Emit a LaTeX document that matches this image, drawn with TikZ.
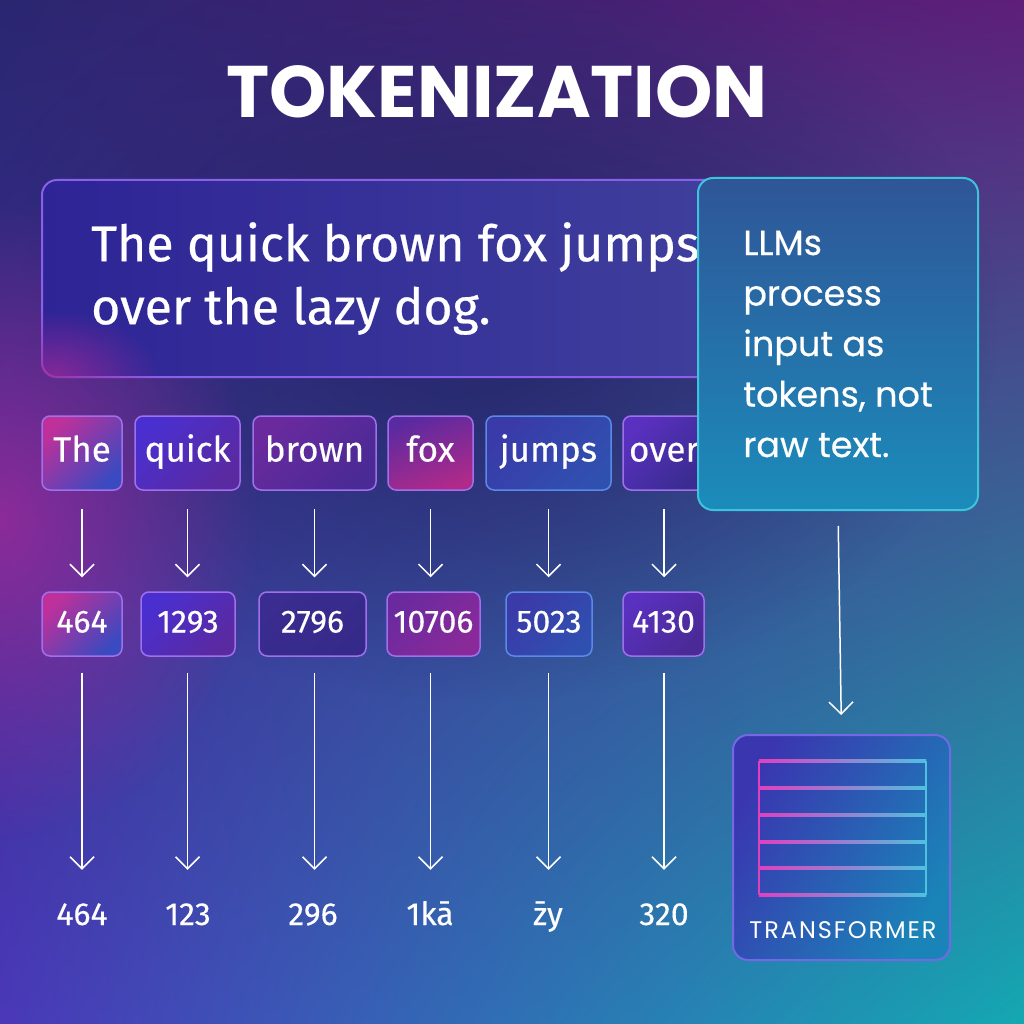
\documentclass[tikz,border=0pt]{standalone}
\usepackage{fontspec}
\setmainfont{Fira Sans}
\newfontfamily\popfont{Poppins}
\usetikzlibrary{positioning, arrows.meta, fadings, shadings, calc}
\tikzfading[name=glow out, inner color=transparent!0, outer color=transparent!100]

\definecolor{bgTL}{HTML}{2A2670}
\definecolor{bgTR}{HTML}{5E1E7A}
\definecolor{bgBL}{HTML}{4A38B8}
\definecolor{bgBR}{HTML}{14A8B2}
\definecolor{glowPink}{HTML}{A02A9A}
\definecolor{glowNavy}{HTML}{1E1F60}
\definecolor{tokline}{HTML}{A070EC}
\definecolor{tokblueline}{HTML}{5A8AE8}
\definecolor{sentline}{HTML}{8A60E8}
\definecolor{sentA}{HTML}{2E2496}
\definecolor{sentB}{HTML}{3F3F9C}
\definecolor{callline}{HTML}{3CC4DC}
\definecolor{callA}{HTML}{2F5597}
\definecolor{callB}{HTML}{1B8CBB}
\definecolor{xline}{HTML}{7468E4}
\definecolor{xA}{HTML}{3A36B0}
\definecolor{xB}{HTML}{1A84B8}
\definecolor{gridPink}{HTML}{E040C0}
\definecolor{gridCyan}{HTML}{50C0E0}
\definecolor{tPink}{HTML}{C0309A}
\definecolor{tBlue}{HTML}{3A4AC0}
\definecolor{tViolet}{HTML}{4A2FD0}
\definecolor{tPlum}{HTML}{5A2AA0}
\definecolor{tPurple}{HTML}{6A2A9E}
\definecolor{tGrape}{HTML}{4A2A95}
\definecolor{tMag}{HTML}{B02A8A}
\definecolor{tSea}{HTML}{3A3AA8}
\definecolor{tSky}{HTML}{3050B0}
\definecolor{tIris}{HTML}{5A30C0}
\definecolor{tInk}{HTML}{3A2C90}
\definecolor{tDeep}{HTML}{352A8A}
\definecolor{tOrchid}{HTML}{8A2A9A}

\begin{document}
\begin{tikzpicture}[x=1pt, y=-1pt,
    tokbox/.style={draw=tokline, line width=1.5pt, rounded corners=8pt, minimum height=74pt,
        inner sep=0pt, text=white, text height=25pt, text depth=8pt,
        font=\fontsize{35}{40}\selectfont\addfontfeatures{FakeBold=0.3}},
    idbox/.style={tokbox, minimum height=64pt, font=\fontsize{32}{38}\selectfont\addfontfeatures{FakeBold=0.3}},
    outlabel/.style={text=white, inner sep=0pt, anchor=base, text height=24pt, text depth=8pt,
        font=\fontsize{32}{38}\selectfont\addfontfeatures{FakeBold=0.3}},
    flow/.style={draw=white, line width=1.5pt, -{Straight Barb[length=12pt,width=24pt]}}
]
    % background
    \useasboundingbox (0,0) rectangle (1024,1024);
    \shade[upper left=bgTL, upper right=bgTR, lower left=bgBL, lower right=bgBR] (0,0) rectangle (1024,1024);
    \fill[glowNavy, path fading=glow out, opacity=0.75] (480,320) ellipse (520 and 380);
    \fill[glowPink, path fading=glow out, opacity=0.8] (0,520) ellipse (260 and 320);

    % title
    \node[text=white, font=\popfont\bfseries\fontsize{73}{80}\selectfont] (title) at (497,92) {TOKENIZATION};

    % sentence
    \node[draw=sentline, line width=2pt, rounded corners=15pt, left color=sentA, right color=sentB,
        minimum width=678pt, minimum height=197pt] (sentbox) at (381,278.5) {};
    \begin{scope}
        \clip[rounded corners=15pt] (sentbox.north west) rectangle (sentbox.south east);
        \fill[glowPink, path fading=glow out, opacity=0.8] (50,380) ellipse (110 and 70);
    \end{scope}
    \node[anchor=west, align=left, text=white, inner sep=0pt,
        font=\fontsize{50}{63}\selectfont\addfontfeatures{FakeBold=0.5}]
        (sent) at ([xshift=50pt]sentbox.west) {The quick brown fox jumps\\over the lazy dog.};

    % tokens
    \node[tokbox, left color=tPink, right color=tBlue, shading angle=45, minimum width=80pt] (tokThe) at (82,453) {The};
    \node[tokbox, left color=tViolet, right color=tPlum, shading angle=45, minimum width=105pt] (tokQuick) at (187.5,453) {quick};
    \node[tokbox, left color=tPurple, right color=tGrape, shading angle=45, minimum width=123pt] (tokBrown) at (314.5,453) {brown};
    \node[tokbox, left color=tPlum, right color=tMag, shading angle=20, minimum width=85pt] (tokFox) at (430.5,453) {fox};
    \node[tokbox, draw=tokblueline, left color=tSea, right color=tSky, shading angle=45, minimum width=125pt] (tokJumps) at (548.5,453) {jumps};
    \node[tokbox, left color=tIris, right color=tInk, shading angle=45, minimum width=82pt] (tokOver) at (664,453) {over};

    % token ids
    \node[idbox, left color=tPink, right color=tBlue, shading angle=45, minimum width=80pt] (idThe) at (82,624) {464};
    \node[idbox, left color=tViolet, right color=tPlum, shading angle=45, minimum width=94pt] (idQuick) at (188,624) {1293};
    \node[idbox, left color=tInk, right color=tDeep, shading angle=45, minimum width=107pt] (idBrown) at (312.5,624) {2796};
    \node[idbox, left color=tPurple, right color=tOrchid, shading angle=45, minimum width=93pt] (idFox) at (433.5,624) {10706};
    \node[idbox, draw=tokblueline, left color=tSea, right color=tSky, shading angle=45, minimum width=86pt] (idJumps) at (549,624) {5023};
    \node[idbox, left color=tIris, right color=tGrape, shading angle=45, minimum width=81pt] (idOver) at (663.5,624) {4130};

    % outputs
    \node[outlabel] (outThe) at (82,925) {464};
    \node[outlabel] (outQuick) at (188,925) {123};
    \node[outlabel] (outBrown) at (313,925) {296};
    \node[outlabel] (outFox) at (430,925) {1kā};
    \node[outlabel] (outJumps) at (548,925) {z̄y};
    \node[outlabel] (outOver) at (664,925) {320};

    \foreach \w in {The,Quick,Brown,Fox,Jumps,Over} {
        \draw[flow, shorten <=18pt, shorten >=14pt] (tok\w.south) -- (tok\w.south |- id\w.north);
        \draw[flow, shorten <=16pt, shorten >=31pt] (tok\w.south |- id\w.south) -- (tok\w.south |- out\w.north);
    }

    % callout
    \node[draw=callline, line width=2pt, rounded corners=15pt, top color=callA, bottom color=callB,
        minimum width=280pt, minimum height=332pt, align=left, text=white,
        font=\popfont\fontsize{35}{50.5}\selectfont\addfontfeatures{FakeBold=0.5}] (callout) at (838,344)
        {LLMs\\process\\input as\\tokens, not\\raw text.};

    % transformer
    \node[draw=xline, line width=2pt, rounded corners=15pt, left color=xA, right color=xB, shading angle=60,
        minimum width=217pt, minimum height=225pt] (xformer) at (841.5,847.5) {};
    \foreach \y in {761,788,815,842,868,895}
        \shade[left color=gridPink, right color=gridCyan] (759,\y-1.3) rectangle (926,\y+1.3);
    \fill[gridPink] (757.7,761) rectangle (760.3,895);
    \fill[gridCyan] (924.7,761) rectangle (927.3,895);
    \node[text=white, inner sep=0pt, font=\popfont\fontsize{24}{26}\selectfont\addfontfeatures{LetterSpace=8}]
        (xlabel) at (843,930) {TRANSFORMER};

    \draw[flow, shorten <=15pt, shorten >=19pt] (callout.south) -- (xformer.north);
\end{tikzpicture}
\end{document}
